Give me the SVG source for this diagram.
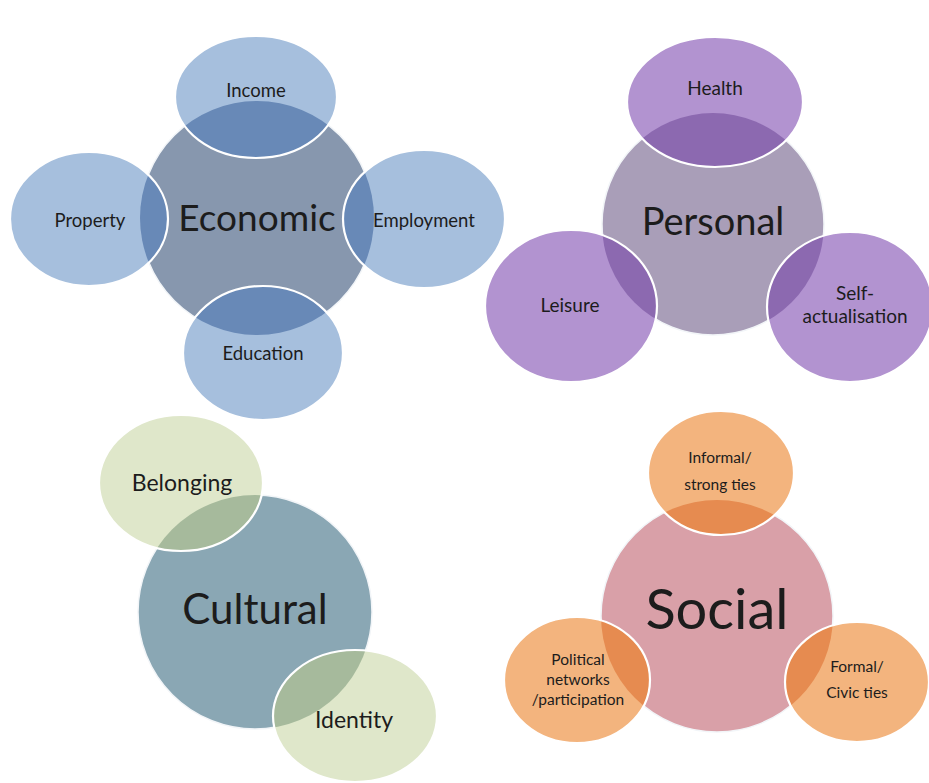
<svg xmlns="http://www.w3.org/2000/svg" width="929" height="783" viewBox="0 0 929 783">
<style>
text{font-family:Lato,"Liberation Sans",sans-serif;fill:#1c1c1c;text-anchor:middle}
.big{font-size:37px}
.sb{font-size:18.5px}
.sp{font-size:19px}
.sc{font-size:23px}
.ss{font-size:15.5px}
.main{stroke:#f2f5f8;stroke-width:1.5}
.edge{fill:none;stroke:#ffffff;stroke-width:2.2}
</style>
<defs>
<clipPath id="cE"><circle cx="257" cy="218" r="117"/></clipPath>
<clipPath id="cP"><circle cx="713" cy="224" r="111"/></clipPath>
<clipPath id="cC"><circle cx="255" cy="612" r="117"/></clipPath>
<clipPath id="cS"><circle cx="717" cy="616" r="116"/></clipPath>
<ellipse id="eInc" cx="256" cy="97" rx="81" ry="61"/>
<ellipse id="eProp" cx="89" cy="219" rx="79" ry="67"/>
<ellipse id="eEmp" cx="424" cy="219" rx="81" ry="69"/>
<ellipse id="eEdu" cx="263" cy="353" rx="80" ry="67"/>
<ellipse id="eHea" cx="715" cy="102" rx="88" ry="65"/>
<ellipse id="eLei" cx="571" cy="306" rx="86" ry="76"/>
<ellipse id="eSelf" cx="850" cy="307" rx="83" ry="75"/>
<ellipse id="eBel" cx="181" cy="483" rx="82" ry="68"/>
<ellipse id="eIde" cx="355" cy="716" rx="82" ry="66"/>
<ellipse id="eInf" cx="721" cy="473" rx="73" ry="62"/>
<ellipse id="ePol" cx="577" cy="680" rx="73" ry="63"/>
<ellipse id="eFor" cx="857" cy="682" rx="72" ry="60"/>
</defs>
<rect width="929" height="783" fill="#ffffff"/>

<g id="economic">
<circle class="main" cx="257" cy="218" r="117" fill="#8797ae"/>
<text class="big" x="257" y="231">Economic</text>
</g>
<g id="income">
<use href="#eInc" fill="#a6bfdd"/><use href="#eInc" fill="#6889b7" clip-path="url(#cE)"/><use href="#eInc" class="edge"/>
<text class="sb" x="256" y="97">Income</text>
</g>
<g id="property">
<use href="#eProp" fill="#a6bfdd"/><use href="#eProp" fill="#6889b7" clip-path="url(#cE)"/><use href="#eProp" class="edge"/>
<text class="sb" x="90" y="227">Property</text>
</g>
<g id="employment">
<use href="#eEmp" fill="#a6bfdd"/><use href="#eEmp" fill="#6889b7" clip-path="url(#cE)"/><use href="#eEmp" class="edge"/>
<text class="sb" x="424" y="227">Employment</text>
</g>
<g id="education">
<use href="#eEdu" fill="#a6bfdd"/><use href="#eEdu" fill="#6889b7" clip-path="url(#cE)"/><use href="#eEdu" class="edge"/>
<text class="sb" x="263" y="360">Education</text>
</g>

<g id="personal">
<circle class="main" cx="713" cy="224" r="111" fill="#a99eb8"/>
<text class="big" style="font-size:38px" x="713" y="235">Personal</text>
</g>
<g id="health">
<use href="#eHea" fill="#b293d0"/><use href="#eHea" fill="#8c69b0" clip-path="url(#cP)"/><use href="#eHea" class="edge"/>
<text class="sp" x="715" y="95">Health</text>
</g>
<g id="leisure">
<use href="#eLei" fill="#b293d0"/><use href="#eLei" fill="#8c69b0" clip-path="url(#cP)"/><use href="#eLei" class="edge"/>
<text class="sp" x="570" y="312">Leisure</text>
</g>
<g id="self-actualisation">
<use href="#eSelf" fill="#b293d0"/><use href="#eSelf" fill="#8c69b0" clip-path="url(#cP)"/><use href="#eSelf" class="edge"/>
<text class="sp" x="855" y="300">Self-</text>
<text class="sp" x="855" y="323">actualisation</text>
</g>

<g id="cultural">
<circle class="main" cx="255" cy="612" r="117" fill="#8aa7b4"/>
<text class="big" style="font-size:42px" x="255" y="624">Cultural</text>
</g>
<g id="belonging">
<use href="#eBel" fill="#dfe7ca"/><use href="#eBel" fill="#a6ba9c" clip-path="url(#cC)"/><use href="#eBel" class="edge"/>
<text class="sc" x="182" y="491">Belonging</text>
</g>
<g id="identity">
<use href="#eIde" fill="#dfe7ca"/><use href="#eIde" fill="#a6ba9c" clip-path="url(#cC)"/><use href="#eIde" class="edge"/>
<text class="sc" x="354" y="728">Identity</text>
</g>

<g id="social">
<circle class="main" cx="717" cy="616" r="116" fill="#d9a0a8"/>
<text class="big" style="font-size:56px" x="717" y="629">Social</text>
</g>
<g id="informal">
<use href="#eInf" fill="#f3b47e"/><use href="#eInf" fill="#e68b50" clip-path="url(#cS)"/><use href="#eInf" class="edge"/>
<text class="ss" x="720" y="463">Informal/</text>
<text class="ss" x="720" y="490">strong ties</text>
</g>
<g id="political">
<use href="#ePol" fill="#f3b47e"/><use href="#ePol" fill="#e68b50" clip-path="url(#cS)"/><use href="#ePol" class="edge"/>
<text class="ss" x="578" y="665">Political</text>
<text class="ss" x="578" y="685">networks</text>
<text class="ss" x="578" y="705">/participation</text>
</g>
<g id="formal">
<use href="#eFor" fill="#f3b47e"/><use href="#eFor" fill="#e68b50" clip-path="url(#cS)"/><use href="#eFor" class="edge"/>
<text class="ss" x="857" y="672">Formal/</text>
<text class="ss" x="857" y="698">Civic ties</text>
</g>
<g id="connectors"/>
</svg>
